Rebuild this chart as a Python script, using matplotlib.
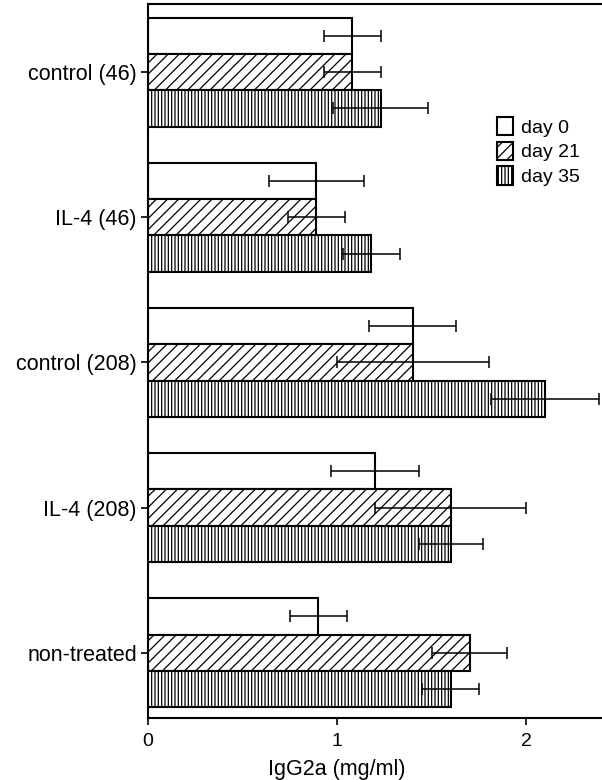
import numpy as np
import matplotlib
matplotlib.use("Agg")
import matplotlib.pyplot as plt

plt.rcParams['font.family'] = ['Liberation Sans', 'DejaVu Sans']
plt.rcParams['hatch.linewidth'] = 0.9

groups = ['control (46)', 'IL-4 (46)', 'control (208)', 'IL-4 (208)', 'non-treated']
days = ['day 0', 'day 21', 'day 35']

# IgG2a (mg/ml), mean and error per day
day0 = [1.08, 0.89, 1.40, 1.20, 0.90]
day21 = [1.08, 0.89, 1.40, 1.60, 1.70]
day35 = [1.23, 1.18, 2.10, 1.60, 1.60]
err0 = [0.15, 0.25, 0.23, 0.23, 0.15]
err21 = [0.15, 0.15, 0.40, 0.40, 0.20]
err35 = [0.25, 0.15, 0.285, 0.17, 0.15]

values = [day0, day21, day35]
errors = [err0, err21, err35]
hatches = ['', '///', '|||||']

fig = plt.figure(figsize=(6.02, 7.80), dpi=100)
ax = fig.add_axes([148/602, 62/780, 454/602, 714/780])

y = np.arange(len(groups))
h = 0.25
for i, (vals, errs, hatch, lab) in enumerate(zip(values, errors, hatches, days)):
    pos = y + (i - 1) * h
    ax.barh(pos, vals, height=h, color='white', edgecolor='black',
            linewidth=1.5, hatch=hatch, label=lab, zorder=2)
    ax.errorbar(vals, pos, xerr=errs, fmt='none', ecolor='black',
                elinewidth=1.1, capsize=4, capthick=1.1, zorder=3)

ax.set_ylim(4.45, -0.47)
ax.set_xlim(0, 2.40)
ax.set_yticks(y)
ax.set_yticklabels(groups, fontsize=15.5)
ax.set_xticks([0, 1, 2])
ax.set_xticklabels(['0', '1', '2'], fontsize=14)
ax.tick_params(axis='both', direction='out', length=5, width=1.2, color='black')
ax.tick_params(axis='y', pad=3)
ax.tick_params(axis='x', pad=6)

ax.spines['right'].set_visible(False)
for s in ['left', 'bottom', 'top']:
    ax.spines[s].set_linewidth(1.5)

ax.set_xlabel('IgG2a (mg/ml)', fontsize=15.5)
ax.xaxis.set_label_coords(1.0 / 2.40, -0.058)

ax.legend(loc='upper left', bbox_to_anchor=(487/602, 1 - 107/780),
          bbox_transform=fig.transFigure, frameon=False, fontsize=14,
          handlelength=0.85, handleheight=1.1, handletextpad=0.4,
          labelspacing=0.25, borderpad=0)

fig.savefig('out.png', dpi=100)
